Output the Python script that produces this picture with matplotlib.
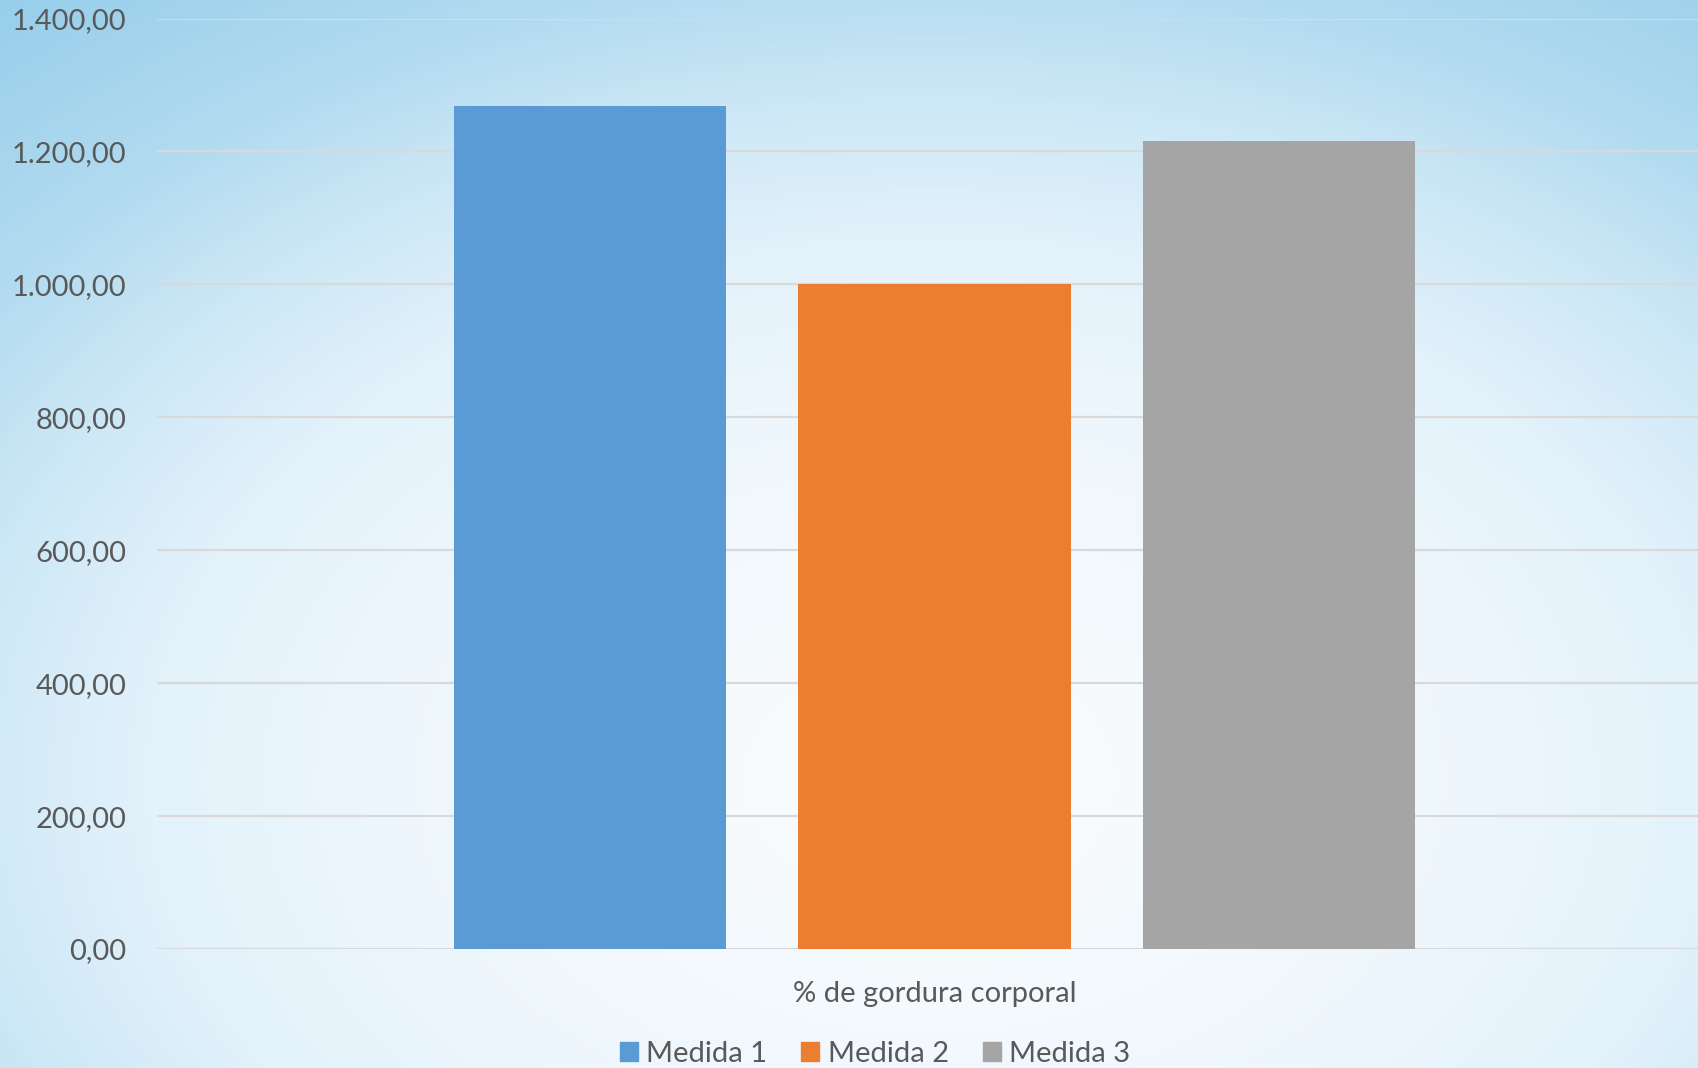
import numpy as np
import matplotlib
matplotlib.use("Agg")
import matplotlib.pyplot as plt
from matplotlib.colors import LinearSegmentedColormap
from matplotlib.patches import Patch
from matplotlib.ticker import FuncFormatter

category = "% de gordura corporal"
series = ["Medida 1", "Medida 2", "Medida 3"]
values = [1268, 1000, 1215]
colors = ["#5b9bd5", "#ed7d31", "#a5a5a5"]
yticks = [0, 200, 400, 600, 800, 1000, 1200, 1400]

plt.rcParams["font.family"] = ["Lato", "DejaVu Sans"]

W, H = 1699, 1068
fig = plt.figure(figsize=(W / 100, H / 100), dpi=100)

# background: soft radial gradient, white in the middle, sky blue at the edges
bg = fig.add_axes([0, 0, 1, 1], zorder=-1)
bg.set_axis_off()
xx, yy = np.meshgrid(np.arange(W), np.arange(H))
d = np.sqrt(((xx - 930) / 1300) ** 2 + ((yy - 780) / 900) ** 2)
cmap = LinearSegmentedColormap.from_list(
    "bg",
    [(0.0, "#fbfdfe"), (0.35 / 1.2, "#f1f8fd"), (0.6 / 1.2, "#e3f2fb"),
     (0.78 / 1.2, "#c9e6f5"), (0.9 / 1.2, "#b2dbf0"), (1.0, "#8ecae9")],
)
bg.imshow(np.clip(d / 1.2, 0, 1), cmap=cmap, vmin=0, vmax=1, aspect="auto",
          extent=[0, 1, 0, 1], origin="upper")
bg.set_xlim(0, 1)
bg.set_ylim(0, 1)

ax = fig.add_axes([157 / W, 1 - 949 / H, 1 - 157 / W, (949 - 18.5) / H])
ax.set_facecolor("none")

pos = np.arange(len(values)) - 1
ax.bar(pos, values, width=0.79, color=colors, zorder=3)

ax.set_xlim(-2.256, 2.218)
ax.set_ylim(0, 1400)
ax.set_yticks(yticks)
ax.yaxis.set_major_formatter(
    FuncFormatter(lambda v, _: f"{v:,.2f}".replace(",", "X").replace(".", ",").replace("X", "."))
)
ax.set_xticks([0])
ax.set_xticklabels([category])
ax.tick_params(axis="y", length=0, pad=22, labelsize=21, labelcolor="#595959")
ax.tick_params(axis="x", length=0, pad=23, labelsize=21, labelcolor="#595959")
ax.grid(axis="y", color="#d9d9d9", linewidth=1.6, zorder=0)
for s in ax.spines.values():
    s.set_visible(False)

handles = [Patch(color=c, label=s) for c, s in zip(colors, series)]
leg = fig.legend(handles=handles, loc="center", bbox_to_anchor=(875 / W, 1 - 1054 / H),
                 ncol=3, frameon=False, fontsize=21, handlelength=0.62, handleheight=0.62,
                 handletextpad=0.3, columnspacing=1.15, borderpad=0)
for t in leg.get_texts():
    t.set_color("#595959")

fig.savefig("out.png", dpi=100)
